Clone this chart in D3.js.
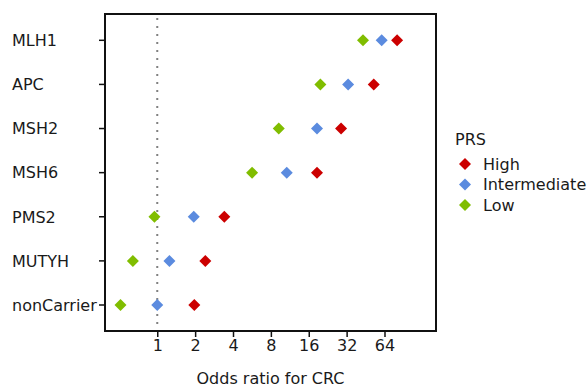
<!DOCTYPE html>
<html>
<head>
<meta charset="utf-8">
<script src="https://cdn.jsdelivr.net/npm/d3@7"></script>
<style>
  body { margin: 0; background: #fff; }
  text { font-family: "DejaVu Sans", sans-serif; fill: #1a1a1a; }
</style>
</head>
<body>
<svg width="587" height="387"></svg>
<script>
(function (d3) {
  'use strict';

  var svg = d3.select('svg');

  // data
  var genes = ['MLH1', 'APC', 'MSH2', 'MSH6', 'PMS2', 'MUTYH', 'nonCarrier'];
  var groups = ['High', 'Intermediate', 'Low'];
  var highOR = [80.6, 52.6, 28.9, 18.6, 3.41, 2.41, 1.97];
  var intermediateOR = [60.8, 32.9, 18.6, 10.7, 1.95, 1.25, 1.0];
  var lowOR = [43.2, 19.8, 9.24, 5.67, 0.95, 0.64, 0.51];
  var xTicks = [1, 2, 4, 8, 16, 32, 64];
  var colors = { High: '#cc0000', Intermediate: '#5b8bdf', Low: '#80bd00' };

  var seriesValues = { High: highOR, Intermediate: intermediateOR, Low: lowOR };

  // layout
  var left = 105, right = 436, top = 14, bottom = 331;
  var fontSize = '16px';

  var x = d3.scaleLog().base(2)
      .domain([Math.pow(2, -1.38), Math.pow(2, 7.36)])
      .range([left, right]);

  var y = d3.scalePoint()
      .domain(genes)
      .range([40.3, 305])
      .padding(0);

  // reference line at OR = 1
  svg.append('line')
      .attr('x1', x(1)).attr('x2', x(1))
      .attr('y1', top + 4).attr('y2', bottom)
      .attr('stroke', '#808080')
      .attr('stroke-width', 2)
      .attr('stroke-dasharray', '2,6');

  // points
  var points = [];
  groups.forEach(function (g) {
    genes.forEach(function (gene, i) {
      points.push({ gene: gene, group: g, value: seriesValues[g][i] });
    });
  });

  var diamond = d3.symbol().type(d3.symbolSquare).size(72);

  svg.append('g').selectAll('path')
      .data(points)
      .enter()
      .append('path')
      .attr('d', diamond)
      .attr('transform', function (d) {
        return 'translate(' + x(d.value) + ',' + y(d.gene) + ') rotate(45)';
      })
      .attr('fill', function (d) { return colors[d.group]; });

  // panel border
  svg.append('rect')
      .attr('x', left).attr('y', top)
      .attr('width', right - left).attr('height', bottom - top)
      .attr('fill', 'none')
      .attr('stroke', '#111')
      .attr('stroke-width', 2);

  // x axis
  var xAxis = d3.axisBottom(x)
      .tickValues(xTicks)
      .tickFormat(d3.format('d'))
      .tickSize(6)
      .tickPadding(3);

  var gx = svg.append('g')
      .attr('transform', 'translate(0,' + bottom + ')')
      .call(xAxis);
  gx.select('.domain').remove();
  gx.selectAll('line').attr('stroke', '#111').attr('stroke-width', 1.5);
  gx.selectAll('text')
      .style('font-family', '"DejaVu Sans", sans-serif')
      .style('font-size', fontSize)
      .attr('fill', '#1a1a1a');

  // y axis
  var gy = svg.append('g');
  gy.selectAll('line')
      .data(genes)
      .enter()
      .append('line')
      .attr('x1', left - 6).attr('x2', left)
      .attr('y1', function (d) { return y(d); })
      .attr('y2', function (d) { return y(d); })
      .attr('stroke', '#111')
      .attr('stroke-width', 1.5);
  gy.selectAll('text')
      .data(genes)
      .enter()
      .append('text')
      .attr('x', 12)
      .attr('y', function (d) { return y(d); })
      .attr('dy', '0.36em')
      .style('font-size', fontSize)
      .text(function (d) { return d; });

  // axis title
  svg.append('text')
      .attr('x', (left + right) / 2)
      .attr('y', 384)
      .attr('text-anchor', 'middle')
      .style('font-size', fontSize)
      .text('Odds ratio for CRC');

  // legend
  var legend = svg.append('g');
  legend.append('text')
      .attr('x', 455).attr('y', 145)
      .style('font-size', fontSize)
      .text('PRS');
  groups.forEach(function (g, i) {
    var cy = 164 + i * 20.5;
    legend.append('path')
        .attr('d', diamond)
        .attr('transform', 'translate(465,' + cy + ') rotate(45)')
        .attr('fill', colors[g]);
    legend.append('text')
        .attr('x', 483).attr('y', cy)
        .attr('dy', '0.36em')
        .style('font-size', fontSize)
        .text(g);
  });

}(d3));
</script>
</body>
</html>
